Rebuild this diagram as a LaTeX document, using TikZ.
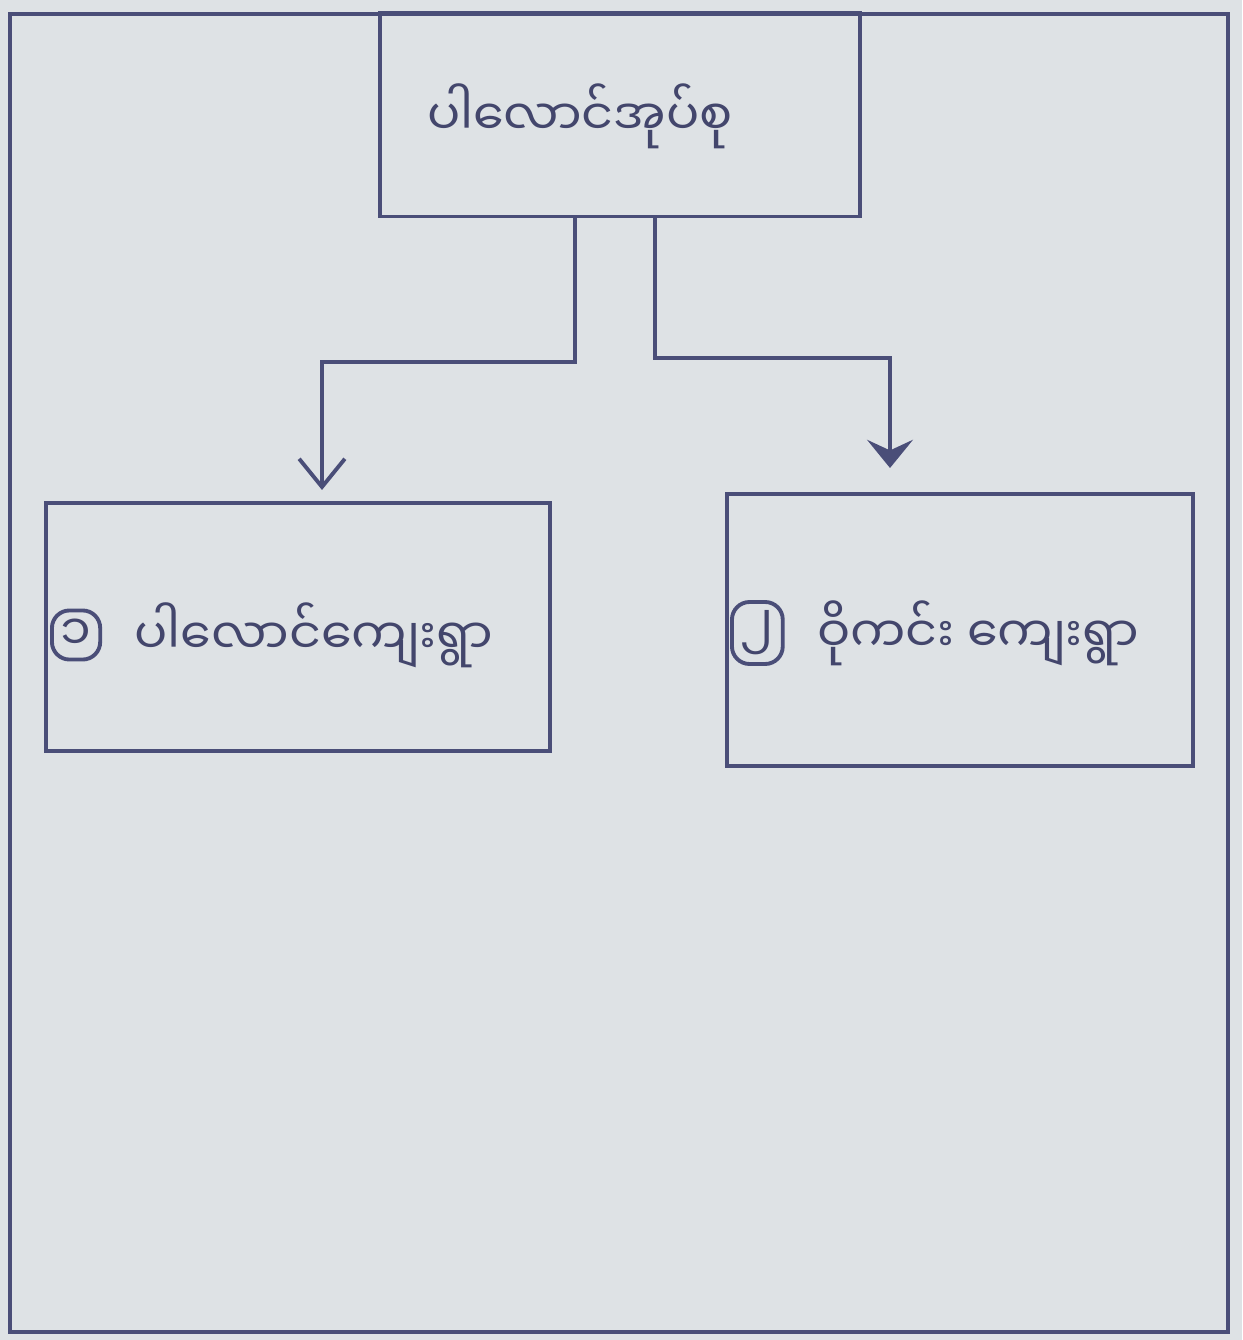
\documentclass[tikz,border=0pt]{standalone}
\usepackage{fontspec}
\newfontfamily\mmfont[Script=Myanmar]{Noto Sans Myanmar UI}
\usetikzlibrary{positioning,arrows.meta,calc}
\definecolor{paper}{HTML}{DEE2E5}
\definecolor{ink}{HTML}{4A4E78}

\begin{document}
\begin{tikzpicture}[x=0.01cm,y=-0.01cm,font=\mmfont\fontsize{14}{17}\selectfont,
  box/.style={draw=ink,line width=1.1pt,inner sep=0pt},
  lbl/.style={text=ink!90!black,inner sep=1pt},
  numbox/.style={draw=ink,line width=1.1pt,rounded corners=5pt,inner sep=2.5pt,text=ink!90!black},
  link/.style={draw=ink,line width=1.1pt}]

% paper and frame
\fill[paper] (0,0) rectangle (1242,1340);
\useasboundingbox (0,0) rectangle (1242,1340);
\draw[ink,line width=0.9pt] (10,14) rectangle (1228,1332);

% boxes
\node[box,minimum width=4.8cm,minimum height=2.03cm] (top) at (620,115) {};
\node[box,minimum width=5.03cm,minimum height=2.47cm] (pala) at (298,627) {};
\node[box,minimum width=4.66cm,minimum height=2.71cm] (wok) at (960,630) {};

% texts
\node[lbl] (toptext) at (580,116) {ပါလောင်အုပ်စု};
\node[numbox,anchor=west] (num1) at (50,635) {၁};
\node[lbl,right=8pt of num1] (palatext) {ပါလောင်ကျေးရွာ};
\node[numbox,anchor=west] (num2) at (730,633) {၂};
\node[lbl,right=8pt of num2] (woktext) {ဝိုကင်း ကျေးရွာ};

% connectors
\coordinate (lend) at (322,490);
\coordinate (rend) at (890,468);
\draw[link,-{Straight Barb[length=8pt,width=13pt]}] ([xshift=-0.45cm]top.south) |- (lend |- 0,362) -- (lend);
\draw[link,-{Stealth[length=8pt,width=13pt,inset=3pt]}] ([xshift=0.35cm]top.south) |- (rend |- 0,358) -- (rend);

\end{tikzpicture}
\end{document}
